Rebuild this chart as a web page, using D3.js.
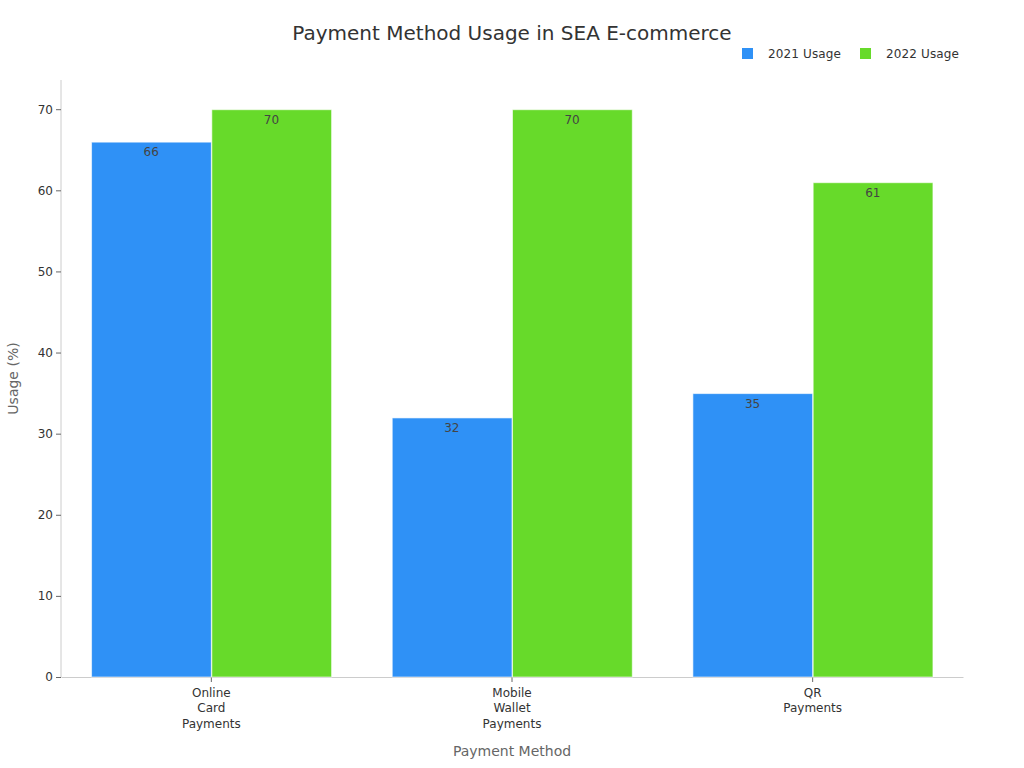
<!DOCTYPE html>
<html lang="en">
<head>
<meta charset="utf-8">
<script src="https://d3js.org/d3.v7.min.js"></script>
<title>Payment Method Usage in SEA E-commerce</title>
<style>
  body { margin: 0; background: #fff; font-family: "DejaVu Sans", sans-serif; }
  .axis path, .axis line { stroke: #cccccc; }
  .axis .tick line { stroke: #666; }
  .axis text { fill: #333; font-size: 12px; font-family: "DejaVu Sans", sans-serif; }
</style>
</head>
<body>
<div id="chart"></div>
<script>
var categories = [["Online", "Card", "Payments"], ["Mobile", "Wallet", "Payments"], ["QR", "Payments"]];
var seriesNames = ["2021 Usage", "2022 Usage"];
var usage2021 = [66, 32, 35];
var usage2022 = [70, 70, 61];
var yTicks = [0, 10, 20, 30, 40, 50, 60, 70];
var colors = ["#2f91f6", "#67da2a"];

var W = 1024, H = 768;
var margin = {top: 80, right: 61, bottom: 91, left: 61};
var width = W - margin.left - margin.right,
    height = H - margin.top - margin.bottom;

var svg = d3.select("#chart").append("svg")
    .attr("width", W).attr("height", H);

var g = svg.append("g")
    .attr("transform", "translate(" + margin.left + "," + margin.top + ")");

var keys = categories.map(function(c) { return c.join(" "); });
var x0 = d3.scaleBand().domain(keys).range([0, width]).paddingInner(0.2).paddingOuter(0.1);
var x1 = d3.scaleBand().domain(seriesNames).range([0, x0.bandwidth()]);
var y = d3.scaleLinear().domain([0, 73.6]).range([height, 0]);

var rows = keys.map(function(k, i) {
  return {key: k, values: [usage2021[i], usage2022[i]]};
});

// y axis
var yAxis = g.append("g").attr("class", "axis")
    .call(d3.axisLeft(y).tickValues(yTicks).tickSize(5).tickSizeOuter(0));
yAxis.select(".domain").attr("d", "M0," + y(y.domain()[1]) + "V" + height);

// x axis
var xAxis = g.append("g").attr("class", "axis")
    .attr("transform", "translate(0," + height + ")")
    .call(d3.axisBottom(x0).tickSize(5).tickSizeOuter(0));
xAxis.selectAll(".tick text").each(function(d, i) {
  var t = d3.select(this).text(null);
  categories[i].forEach(function(line, j) {
    t.append("tspan").attr("x", 0).attr("dy", j === 0 ? "0.71em" : "1.33em").text(line);
  });
}).attr("y", 11);

// bars
var groups = g.selectAll(".grp").data(rows).enter().append("g")
    .attr("transform", function(d) { return "translate(" + x0(d.key) + ",0)"; });

groups.selectAll("rect").data(function(d) {
  return d.values.map(function(v, i) { return {s: seriesNames[i], v: v, i: i}; });
}).enter().append("rect")
  .attr("x", function(d) { return x1(d.s) + 0.5; })
  .attr("y", function(d) { return y(d.v) + 0.5; })
  .attr("width", x1.bandwidth() - 0.5)
  .attr("height", function(d) { return height - y(d.v) - 0.5; })
  .attr("fill", function(d) { return colors[d.i]; })
  .attr("stroke", "#ffffff")
  .attr("stroke-opacity", 0.6)
  .attr("stroke-width", 1);

groups.selectAll(".lbl").data(function(d) {
  return d.values.map(function(v, i) { return {s: seriesNames[i], v: v}; });
}).enter().append("text")
  .attr("x", function(d) { return x1(d.s) + x1.bandwidth() / 2; })
  .attr("y", function(d) { return y(d.v) + 14.5; })
  .attr("text-anchor", "middle")
  .attr("font-size", 12)
  .attr("fill", "#444")
  .text(function(d) { return d.v; });

// title
svg.append("text")
  .attr("x", W / 2).attr("y", 40)
  .attr("text-anchor", "middle")
  .attr("font-size", 20)
  .attr("fill", "#333")
  .text("Payment Method Usage in SEA E-commerce");

// axis titles
svg.append("text")
  .attr("x", margin.left + width / 2).attr("y", 756)
  .attr("text-anchor", "middle")
  .attr("font-size", 14)
  .attr("fill", "#666")
  .text("Payment Method");

svg.append("text")
  .attr("transform", "translate(18," + (margin.top + height / 2) + ") rotate(-90)")
  .attr("text-anchor", "middle")
  .attr("font-size", 14)
  .attr("fill", "#666")
  .text("Usage (%)");

// legend
var legendX = [742, 860];
var legend = svg.selectAll(".leg").data(seriesNames).enter().append("g")
  .attr("transform", function(d, i) { return "translate(" + legendX[i] + ",48)"; });
legend.append("rect").attr("width", 11).attr("height", 11)
  .attr("fill", function(d, i) { return colors[i]; });
legend.append("text").attr("x", 26).attr("y", 10)
  .attr("font-size", 12).attr("fill", "#333")
  .attr("textLength", 73)
  .text(function(d) { return d; });
</script>
</body>
</html>
